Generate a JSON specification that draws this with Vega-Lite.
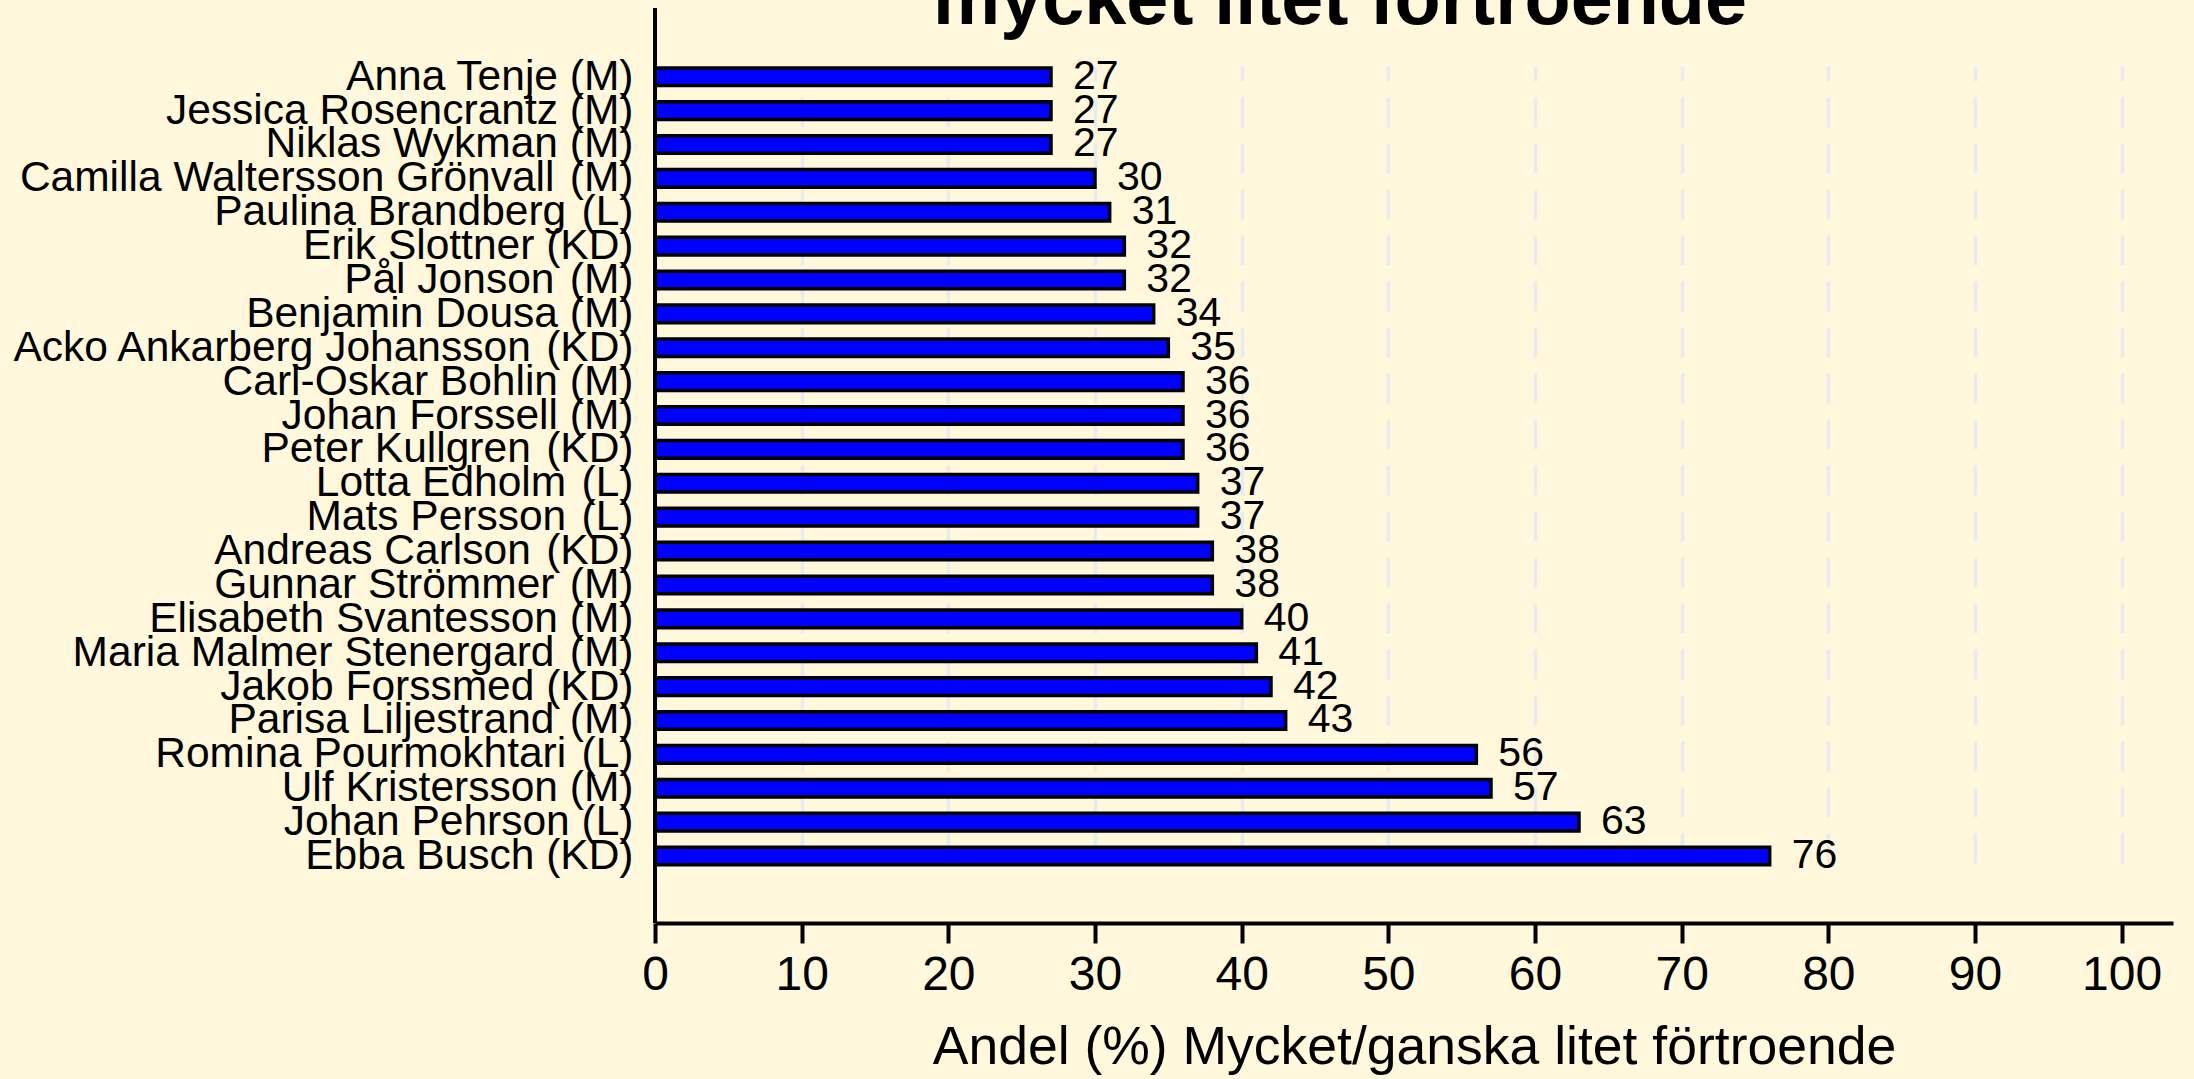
{
  "$schema": "https://vega.github.io/schema/vega-lite/v6.json",
  "width": 1518,
  "height": 915,
  "autosize": {"type": "none"},
  "padding": {"left": 655, "top": 8, "right": 21, "bottom": 156},
  "background": "#FFF8DC",
  "title": {
    "text": "mycket litet förtroende",
    "font": "Liberation Sans",
    "fontSize": 75.5,
    "fontWeight": "bold",
    "color": "black",
    "anchor": "middle",
    "frame": "group",
    "baseline": "alphabetic",
    "offset": 0,
    "dx": -74,
    "dy": 93
  },
  "data": {
    "values": [
      {"namn": "Anna Tenje (M)", "andel": 27},
      {"namn": "Jessica Rosencrantz (M)", "andel": 27},
      {"namn": "Niklas Wykman (M)", "andel": 27},
      {"namn": "Camilla Waltersson Grönvall\u200a (M)", "andel": 30},
      {"namn": "Paulina Brandberg\u200a (L)", "andel": 31},
      {"namn": "Erik Slottner (KD)", "andel": 32},
      {"namn": "Pål Jonson\u200a (M)", "andel": 32},
      {"namn": "Benjamin Dousa (M)", "andel": 34},
      {"namn": "Acko Ankarberg Johansson\u200a (KD)", "andel": 35},
      {"namn": "Carl-Oskar Bohlin (M)", "andel": 36},
      {"namn": "Johan Forssell (M)", "andel": 36},
      {"namn": "Peter Kullgren\u200a (KD)", "andel": 36},
      {"namn": "Lotta Edholm\u200a (L)", "andel": 37},
      {"namn": "Mats Persson\u200a (L)", "andel": 37},
      {"namn": "Andreas Carlson\u200a (KD)", "andel": 38},
      {"namn": "Gunnar Strömmer\u200a (M)", "andel": 38},
      {"namn": "Elisabeth Svantesson (M)", "andel": 40},
      {"namn": "Maria Malmer Stenergard\u200a (M)", "andel": 41},
      {"namn": "Jakob Forssmed (KD)", "andel": 42},
      {"namn": "Parisa Liljestrand\u200a (M)", "andel": 43},
      {"namn": "Romina Pourmokhtari\u200a (L)", "andel": 56},
      {"namn": "Ulf Kristersson (M)", "andel": 57},
      {"namn": "Johan Pehrson (L)", "andel": 63},
      {"namn": "Ebba Busch (KD)", "andel": 76}
    ]
  },
  "encoding": {
    "x": {
      "field": "andel",
      "type": "quantitative",
      "scale": {"domain": [0, 103.5], "nice": false, "zero": true},
      "axis": {
        "title": "Andel (%) Mycket/ganska litet förtroende",
        "titleFont": "Liberation Sans",
        "titleFontSize": 53.5,
        "titleFontWeight": "normal",
        "titleColor": "black",
        "titlePadding": 22,
        "values": [0, 10, 20, 30, 40, 50, 60, 70, 80, 90, 100],
        "domain": true,
        "domainColor": "black",
        "domainWidth": 4,
        "ticks": true,
        "tickColor": "black",
        "tickSize": 20,
        "tickWidth": 4,
        "grid": true,
        "gridColor": "#EBEBEE",
        "gridWidth": 3.5,
        "gridDash": [30, 16],
        "labelFont": "Liberation Sans",
        "labelFontSize": 48,
        "labelColor": "black",
        "labelPadding": 8,
        "labelFlush": false
      }
    }
  },
  "layer": [
    {
      "mark": {"type": "bar", "color": "#0000FF", "stroke": "black", "strokeWidth": 3.5},
      "encoding": {
        "y": {
          "field": "namn",
          "type": "nominal",
          "sort": null,
          "scale": {"paddingInner": 0.48, "paddingOuter": 0, "range": [59.9, 856.8]},
          "axis": {
            "title": null,
            "domain": false,
            "ticks": false,
            "grid": false,
            "labelFont": "Liberation Sans",
            "labelFontSize": 42.5,
            "labelColor": "black",
            "labelPadding": 22,
            "labelOffset": 0,
            "labelLimit": 0
          }
        }
      }
    },
    {
      "mark": {"type": "text", "align": "left", "baseline": "middle", "dx": 22, "dy": 0, "font": "Liberation Sans", "fontSize": 41, "color": "black"},
      "encoding": {
        "y": {"field": "namn", "type": "nominal", "sort": null},
        "text": {"field": "andel", "type": "quantitative"}
      }
    },
    {
      "mark": {"type": "rule", "color": "black", "strokeWidth": 4},
      "encoding": {"x": {"datum": 0}}
    }
  ],
  "config": {
    "view": {"stroke": null},
    "font": "Liberation Sans"
  }
}
